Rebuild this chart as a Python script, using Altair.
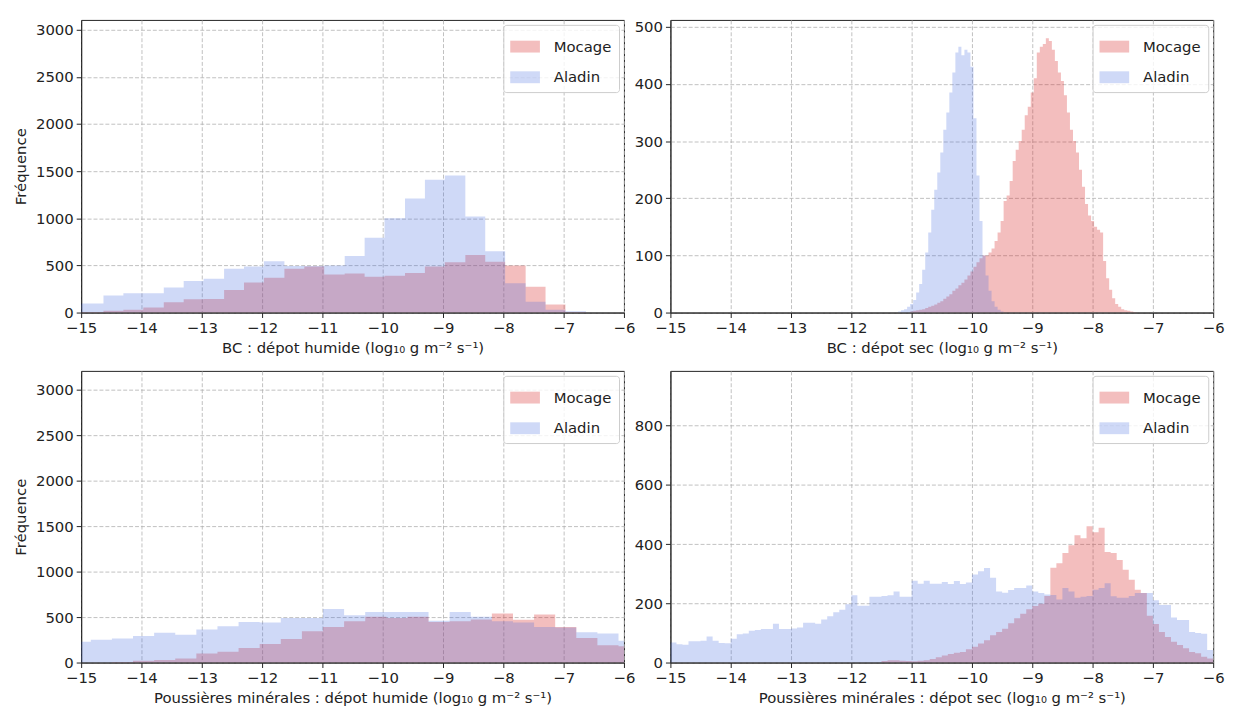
import altair as alt
import pandas as pd

SERIES = ["Mocage", "Aladin"]
COLORS = ["#d62728", "#4169e1"]
OPACITIES = [0.3, 0.25]
X_TICKS = [-15, -14, -13, -12, -11, -10, -9, -8, -7, -6]

# ---- Panel 1 : BC dépot humide (irregular bin edges) ----
tl_edges = [-15.0, -14.63, -14.30, -13.97, -13.63, -13.30, -12.97, -12.63, -12.30,
            -11.97, -11.63, -11.30, -10.97, -10.63, -10.30, -9.97, -9.63, -9.30,
            -8.97, -8.63, -8.30, -7.97, -7.63, -7.30, -6.97, -6.63]
tl_mocage = [5, 20, 30, 55, 110, 140, 145, 240, 320, 370, 465, 490, 405, 415, 380,
             390, 420, 490, 535, 610, 540, 500, 275, 85, 5]
tl_aladin = [95, 180, 205, 205, 265, 335, 360, 465, 490, 545, 495, 495, 500, 600, 795,
             1000, 1210, 1410, 1455, 1020, 650, 310, 115, 30, 15]

# ---- Panel 2 : BC dépot sec (bins of 0.05) ----
tr_width = 0.05
tr_mocage_start = -11.025
tr_mocage = [2, 3, 4, 5, 6, 8, 10, 12, 14, 17,
             20, 24, 28, 32, 38, 42, 48, 52, 58, 65,
             72, 80, 88, 95, 100, 100, 105, 112, 125, 140,
             160, 195, 205, 230, 265, 285, 300, 320, 345, 360,
             385, 410, 455, 465, 470, 480, 475, 460, 440, 420,
             405, 380, 350, 320, 300, 280, 250, 220, 190, 170,
             160, 150, 145, 140, 90, 60, 40, 25, 15, 10,
             6, 4, 3, 2, 1]
tr_aladin_start = -11.225
tr_aladin = [2, 4, 6, 10, 15, 22, 35, 50, 75, 105,
             140, 180, 215, 245, 280, 320, 350, 385, 420, 455,
             465, 450, 460, 455, 430, 340, 240, 160, 100, 65,
             38, 20, 10, 5, 2]

# ---- Panel 3 : Poussières minérales dépot humide ----
bl_edges = [-15.0, -14.84, -14.49, -14.14, -13.79, -13.44, -13.09, -12.74, -12.39,
            -12.04, -11.69, -11.34, -10.99, -10.64, -10.29, -9.94, -9.59, -9.24,
            -8.89, -8.54, -8.19, -7.84, -7.49, -7.14, -6.79, -6.44, -6.09, -6.0]
bl_mocage = [0, 0, 5, 20, 28, 45, 100, 118, 160, 203, 260, 345, 390, 455, 505,
             490, 505, 445, 455, 475, 540, 470, 528, 390, 270, 190, 180]
bl_aladin = [230, 250, 265, 292, 328, 305, 365, 400, 445, 440, 490, 490, 590, 520, 555,
             555, 555, 460, 555, 505, 455, 440, 390, 385, 333, 320, 240]

# ---- Panel 4 : Poussières minérales dépot sec (bins of 0.1) ----
br_width = 0.1
br_mocage_start = -11.5
br_mocage = [5, 8, 8, 6, 5, 4, 6, 8, 12, 18,
             24, 29, 33, 36, 45, 53, 64, 75, 92, 103,
             114, 133, 150, 165, 180, 191, 199, 225, 320, 335,
             370, 396, 430, 420, 460, 440, 455, 373, 370, 346,
             313, 280, 246, 235, 158, 130, 103, 86, 70, 59,
             48, 36, 31, 20, 14]
br_aladin_start = -15.0
br_aladin = [68, 62, 60, 72, 72, 74, 88, 74, 66, 65,
             80, 96, 98, 107, 110, 113, 113, 131, 113, 113,
             115, 118, 134, 134, 131, 145, 156, 170, 178, 197,
             227, 192, 192, 222, 222, 225, 227, 240, 222, 222,
             276, 266, 276, 266, 266, 272, 265, 275, 265, 270,
             297, 308, 319, 286, 240, 236, 245, 252, 252, 260,
             240, 235, 230, 228, 213, 252, 240, 219, 222, 225,
             246, 252, 268, 224, 219, 219, 225, 235, 235, 235,
             210, 194, 194, 152, 144, 144, 103, 100, 97, 42]

TITLES = [
    "BC : dépot humide (log₁₀ g m⁻² s⁻¹)",
    "BC : dépot sec (log₁₀ g m⁻² s⁻¹)",
    "Poussières minérales :  dépot humide (log₁₀ g m⁻² s⁻¹)",
    "Poussières minérales :  dépot sec (log₁₀ g m⁻² s⁻¹)",
]
Y_TITLE = "Fréquence"


def regular_edges(start, width, n):
    return [round(start + width * i, 4) for i in range(n + 1)]


def step_rows(series, edges, counts):
    # one point per bin left edge, plus the closing right edge (step-after outline)
    pts = [{"series": series, "x": edges[i], "count": c} for i, c in enumerate(counts)]
    pts.append({"series": series, "x": edges[len(counts)], "count": counts[-1]})
    return pts


def frame(m_edges, m_counts, a_edges, a_counts):
    return pd.DataFrame(step_rows("Mocage", m_edges, m_counts) +
                        step_rows("Aladin", a_edges, a_counts))


def legend():
    return alt.Legend(title=None, orient="top-right")


def panel(df, ymax, yticks, xtitle, left, height):
    yaxis = alt.Axis(values=yticks, format="d", title=Y_TITLE) if left else \
        alt.Axis(values=yticks, format="d", title=None)
    return alt.Chart(df).mark_area(interpolate="step-after", clip=True).encode(
        x=alt.X("x:Q", scale=alt.Scale(domain=[-15, -6], nice=False, zero=False),
                axis=alt.Axis(values=X_TICKS, format="d", title=xtitle)),
        y=alt.Y("count:Q", scale=alt.Scale(domain=[0, ymax], nice=False), axis=yaxis,
                stack=None),
        color=alt.Color("series:N", scale=alt.Scale(domain=SERIES, range=COLORS), legend=legend()),
        opacity=alt.Opacity("series:N", scale=alt.Scale(domain=SERIES, range=OPACITIES), legend=legend()),
    ).properties(width=549, height=height)


tl = panel(frame(tl_edges, tl_mocage, tl_edges, tl_aladin), 3105,
           [0, 500, 1000, 1500, 2000, 2500, 3000], TITLES[0], True, 296)
tr = panel(frame(regular_edges(tr_mocage_start, tr_width, len(tr_mocage)), tr_mocage,
                 regular_edges(tr_aladin_start, tr_width, len(tr_aladin)), tr_aladin),
           512, [0, 100, 200, 300, 400, 500], TITLES[1], False, 296)
bl = panel(frame(bl_edges, bl_mocage, bl_edges, bl_aladin), 3210,
           [0, 500, 1000, 1500, 2000, 2500, 3000], TITLES[2], True, 295)
br = panel(frame(regular_edges(br_mocage_start, br_width, len(br_mocage)), br_mocage,
                 regular_edges(br_aladin_start, br_width, len(br_aladin)), br_aladin),
           985, [0, 200, 400, 600, 800], TITLES[3], False, 295)

chart = alt.concat(tl, tr, bl, br, columns=2, spacing={"row": 59, "column": 47},
                   bounds="flush").resolve_scale(
    color="independent", opacity="independent"
).resolve_legend(
    color="independent", opacity="independent"
).properties(
    padding={"left": 5, "top": 7, "right": 5, "bottom": 5}
).configure(
    font="DejaVu Sans"
).configure_view(
    stroke="#222222", strokeWidth=1
).configure_axis(
    labelFont="DejaVu Sans", labelFontSize=15, labelColor="#222222",
    titleFont="DejaVu Sans", titleFontSize=15, titleFontWeight="normal", titleColor="#222222",
    tickColor="#222222", domainColor="#222222", tickSize=5, labelPadding=3,
    grid=True, gridColor="#b0b0b0", gridDash=[4, 2], gridWidth=0.8, zindex=1
).configure_axisX(
    labelFlush=False, titlePadding=5
).configure_axisY(
    titlePadding=7
).configure_legend(
    offset=5, padding=7, strokeColor="#cccccc", fillColor="rgba(255,255,255,0.8)",
    cornerRadius=3, labelFont="DejaVu Sans", labelFontSize=15, labelColor="#222222",
    symbolType="M-1,-0.4H1V0.4H-1Z", symbolSize=900, symbolStrokeWidth=0,
    rowPadding=8, labelOffset=14
)

chart.save("out.html", embed_options={"renderer": "svg", "actions": False})
